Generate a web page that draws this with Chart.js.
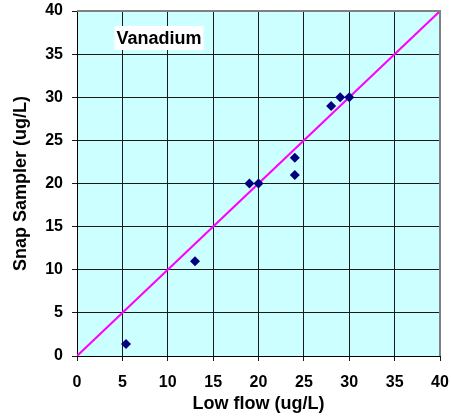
<!DOCTYPE html>
<html>
<head>
<meta charset="utf-8">
<script src="https://cdn.jsdelivr.net/npm/chart.js@4.4.1/dist/chart.umd.min.js"></script>
<style>
  html, body { margin: 0; padding: 0; background: #ffffff; }
  #wrap { width: 451px; height: 417px; position: relative; }
</style>
</head>
<body>
<div id="wrap"><canvas id="chartVanadium"></canvas></div>
<script>
(function() {
  'use strict';

  // Datos
  const lowFlow = [5.4, 13, 19, 20, 24, 24, 28, 29, 30];
  const snapSampler = [1.4, 11, 20, 20, 21, 23, 29, 30, 30];
  const lineX = [0, 40];
  const lineY = [0, 40];
  const axisTicks = [0, 5, 10, 15, 20, 25, 30, 35, 40];
  const chartLabel = 'Vanadium';

  const CONTAINER_ID = 'chartVanadium';
  const FONT = '"Liberation Sans", Arial, sans-serif';

  // Fondo cian y borde gris del área de trazado
  const plotArea = {
    id: 'plotArea',
    beforeDraw(chart) {
      const a = chart.chartArea;
      const ctx = chart.ctx;
      ctx.save();
      ctx.fillStyle = '#ccffff';
      ctx.fillRect(a.left, a.top, a.right - a.left, a.bottom - a.top);
      ctx.restore();
    },
    afterDatasetsDraw(chart) {
      const a = chart.chartArea;
      const ctx = chart.ctx;
      ctx.save();
      ctx.strokeStyle = '#808080';
      ctx.lineWidth = 2;
      ctx.beginPath();
      ctx.moveTo(a.left, a.top);
      ctx.lineTo(a.right, a.top);
      ctx.lineTo(a.right, a.bottom);
      ctx.stroke();
      // Etiqueta "Vanadium"
      ctx.font = 'bold 18px ' + FONT;
      const w = ctx.measureText(chartLabel).width;
      const cx = 159, cy = 38;
      ctx.fillStyle = '#ffffff';
      ctx.fillRect(cx - w / 2 - 2, cy - 12, w + 4, 24);
      ctx.fillStyle = '#000000';
      ctx.textAlign = 'center';
      ctx.textBaseline = 'middle';
      ctx.fillText(chartLabel, cx, cy + 1);
      ctx.restore();
    }
  };

  // Sin márgenes extra por las etiquetas de los extremos
  function noPad(s) {
    s.paddingLeft = 0;
    s.paddingRight = 0;
    s.paddingTop = 0;
    s.paddingBottom = 0;
  }

  const points = lowFlow.map((x, i) => ({ x: x, y: snapSampler[i] }));
  const line = lineX.map((x, i) => ({ x: x, y: lineY[i] }));

  const tickFont = { family: FONT, size: 16, weight: 'bold' };
  const titleFont = { family: FONT, size: 18, weight: 'bold' };

  const ctx = document.getElementById(CONTAINER_ID).getContext('2d');

  new Chart(ctx, {
    type: 'scatter',
    data: {
      datasets: [{
        label: 'Vanadium',
        data: points,
        pointStyle: 'rectRot',
        pointRadius: 5,
        backgroundColor: '#000080',
        borderColor: '#000080',
        borderWidth: 0,
        order: 1
      }, {
        type: 'line',
        label: '1:1',
        data: line,
        borderColor: '#ff00ff',
        borderWidth: 2,
        pointRadius: 0,
        fill: false,
        order: 2
      }]
    },
    plugins: [plotArea],
    options: {
      responsive: true,
      maintainAspectRatio: false,
      animation: false,
      layout: { padding: { top: 11, right: 11, left: 0, bottom: 0 } },
      plugins: {
        legend: { display: false },
        tooltip: { enabled: false }
      },
      scales: {
        x: {
          type: 'linear',
          min: 0,
          max: 40,
          afterBuildTicks: (s) => { s.ticks = axisTicks.map(v => ({ value: v })); },
          afterFit: (s) => { s.height = 61; noPad(s); },
          ticks: { color: '#000000', font: tickFont, padding: 12, maxRotation: 0 },
          grid: { color: '#1a1a1a', lineWidth: 1, tickLength: 5 },
          border: { color: '#000000', width: 1 },
          title: {
            display: true,
            text: 'Low flow (ug/L)',
            color: '#000000',
            font: titleFont,
            padding: { top: 0, bottom: 2 }
          }
        },
        y: {
          type: 'linear',
          min: 0,
          max: 40,
          afterBuildTicks: (s) => { s.ticks = axisTicks.map(v => ({ value: v })); },
          afterFit: (s) => { s.width = 77; noPad(s); },
          ticks: { color: '#000000', font: tickFont, padding: 9 },
          grid: { color: '#1a1a1a', lineWidth: 1, tickLength: 5 },
          border: { color: '#000000', width: 1 },
          title: {
            display: true,
            text: 'Snap Sampler (ug/L)',
            color: '#000000',
            font: titleFont,
            padding: { top: 10, bottom: 0 }
          }
        }
      }
    }
  });
})();
</script>
</body>
</html>
